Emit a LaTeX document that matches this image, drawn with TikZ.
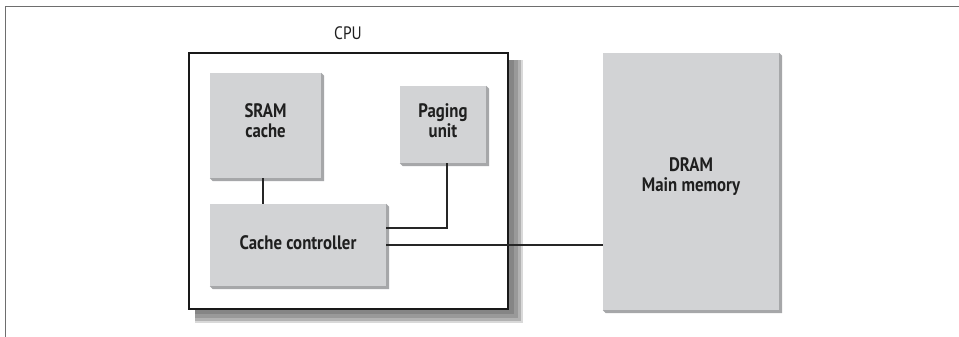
\documentclass[tikz,border=0pt]{standalone}
\usepackage{fontspec}
\setmainfont{PT Sans}[FakeStretch=0.86]
\definecolor{boxfill}{HTML}{D2D3D5}
\definecolor{boxshade}{HTML}{A6A7A9}
\definecolor{framegray}{HTML}{6E6E6E}
\newcommand{\boxshadow}[1]{%
  \fill[boxshade] (#1.north east) -- ([xshift=3pt,yshift=-3pt]#1.north east) -- ([xshift=3pt,yshift=-3pt]#1.south east) -- ([xshift=3pt,yshift=-3pt]#1.south west) -- (#1.south west) -- (#1.south east) -- cycle;}
\begin{document}
\begin{tikzpicture}[x=1pt,y=-1pt,
  gbox/.style={fill=boxfill,draw=none,inner sep=0pt},
  gtext/.style={inner sep=0pt,align=center,text=black!88,
     font=\fontsize{19.5}{20}\selectfont\bfseries},
  conn/.style={line width=2pt,black!85}]
\useasboundingbox (0,0) rectangle (959,337);
% outer frame
\draw[framegray,line width=0.9pt] (5,337) -- (5,6) -- (959,6);
% CPU shadow
\fill[black!15] (195,60) rectangle (523,323);
\fill[black!30] (195,60) rectangle (521,321);
\fill[black!40] (195,60) rectangle (518,318);
\fill[black!48] (195,60) rectangle (514,314);
% CPU box
\node[draw=black!90,line width=2.6pt,fill=white,minimum width=319pt,minimum height=256pt,inner sep=0pt] (cpu) at (348.5,181) {};
\node[font=\fontsize{18}{20}\selectfont,text=black!88] (cpulabel) at (348,33) {CPU};
% grey boxes
\node[gbox,minimum width=111pt,minimum height=105pt] (sram) at (265.5,125.5) {};
\node[gbox,minimum width=86pt,minimum height=77pt] (paging) at (443,124.5) {};
\node[gbox,minimum width=176pt,minimum height=82pt] (ctrl) at (298,245) {};
\node[gbox,minimum width=176pt,minimum height=257pt] (dram) at (691,181.5) {};
\boxshadow{sram}
\boxshadow{paging}
\boxshadow{ctrl}
\boxshadow{dram}
\node[gtext] (sramtext) at ([yshift=5pt]sram.center) {SRAM\\cache};
\node[gtext] (pagingtext) at ([yshift=4pt]paging.center) {Paging\\unit};
\node[gtext] (ctrltext) at ([yshift=2pt]ctrl.center) {Cache controller};
\node[gtext] (dramtext) at ([yshift=5pt]dram.center) {DRAM\\Main memory};
% connectors
\draw[conn] ([xshift=-2.5pt]sram.south) -- ([xshift=-2.5pt]sram.south |- ctrl.north);
\draw[conn] ([yshift=17pt]ctrl.east) -| ([xshift=4pt]paging.south);
\draw[conn] (ctrl.east) -- (ctrl.east -| dram.west);
\end{tikzpicture}
\end{document}
